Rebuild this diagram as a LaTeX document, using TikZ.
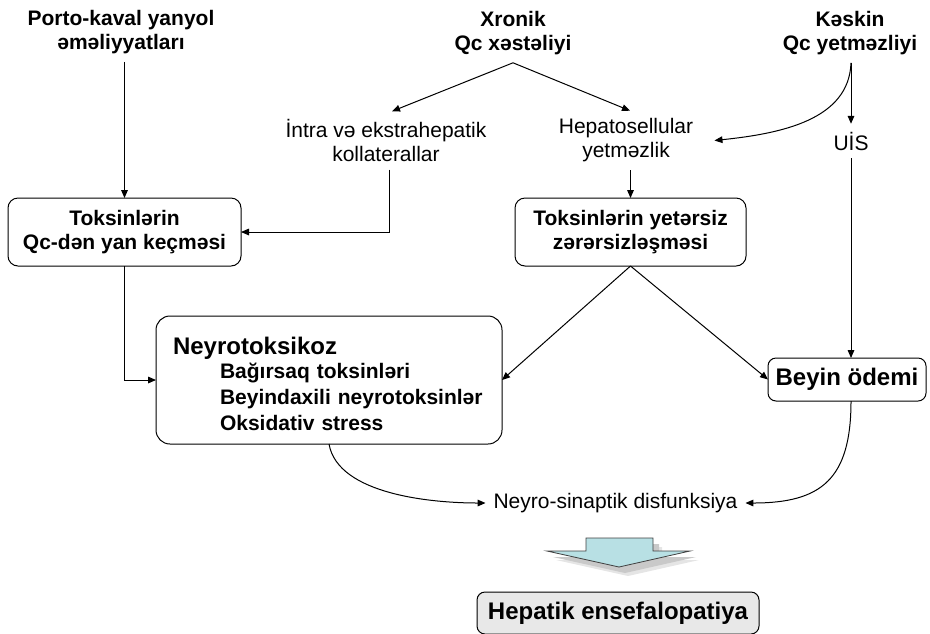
\documentclass[tikz,border=0pt]{standalone}
\usepackage{fontspec}
\setmainfont{Liberation Sans}
\usetikzlibrary{arrows.meta}
\definecolor{arrowfill}{RGB}{184,224,228}
\definecolor{boxgray}{RGB}{232,232,232}
\begin{document}
\begin{tikzpicture}[x=0.75pt,y=-0.75pt,
  every node/.style={inner sep=0pt, outer sep=0pt},
  txt/.style={align=center, font=\fontsize{15.75}{18}\selectfont, outer sep=6pt},
  btxt/.style={txt, font=\fontsize{15.75}{18}\selectfont\bfseries},
  box/.style={draw, line width=0.75pt, rounded corners=7.5pt, align=center, font=\fontsize{15.75}{18}\selectfont\bfseries},
  bigbox/.style={box, font=\fontsize{18}{21}\selectfont\bfseries},
  arr/.style={line width=0.75pt, -{Triangle[length=6pt,width=5pt]}}]
\useasboundingbox (0,0) rectangle (930,633);

% text nodes
\node[btxt] (porto) at (121,32) {Porto-kaval yanyol\\əməliyyatları};
\node[btxt] (xronik) at (513,33) {Xronik\\Qc xəstəliyi};
\node[btxt] (keskin) at (850,33) {Kəskin\\Qc yetməzliyi};
\node[txt] (intra) at (386,140.5) {İntra və ekstrahepatik\\kollaterallar};
\node[txt] (hepato) at (626,140.5) {Hepatosellular\\yetməzlik};
\node[txt] (uis) at (851,141) {UİS};

% boxes
\node[box, minimum width=233*0.75pt, minimum height=68*0.75pt] (box1) at (124.5,232) {Toksinlərin\\Qc-dən yan keçməsi};
\node[box, minimum width=231*0.75pt, minimum height=68*0.75pt] (box2) at (630.5,232) {Toksinlərin yetərsiz\\zərərsizləşməsi};
\node[box, rounded corners=10.5pt, minimum width=346*0.75pt, minimum height=128*0.75pt, align=left, text width=312*0.75pt, inner xsep=12.75pt, font=\fontsize{15.75}{19.5}\selectfont\bfseries] (neyro) at (329,380)
  {\rule{0pt}{19pt}{\fontsize{18}{19.5}\selectfont Neyrotoksikoz}\\[-2pt]\hspace*{35.25pt}Bağırsaq toksinləri\\\hspace*{35.25pt}Beyindaxili neyrotoksinlər\\\hspace*{35.25pt}Oksidativ stress};
\node[bigbox, rounded corners=6pt, minimum width=158*0.75pt, minimum height=43*0.75pt] (beyin) at (847,379.5) {Beyin ödemi};
\node[txt] (neyrosin) at (615.5,503) {Neyro-sinaptik disfunksiya};
\node[bigbox, fill=boxgray, rounded corners=6pt, minimum width=282*0.75pt, minimum height=42*0.75pt] (hepatik) at (618,613) {Hepatik ensefalopatiya};

% block arrow with shadow
\fill[gray!20, shift={(9,9)}] (586,538) -- (653,538) -- (653,551) -- (690,551) -- (619,567) -- (547,551) -- (586,551) -- cycle;
\fill[gray!42, shift={(6,6)}] (586,538) -- (653,538) -- (653,551) -- (690,551) -- (619,567) -- (547,551) -- (586,551) -- cycle;
\filldraw[fill=arrowfill, draw=black!75, line width=0.6pt] (586,538) -- (653,538) -- (653,551) -- (690,551) -- (619,567) -- (547,551) -- (586,551) -- cycle;

% connectors
\draw[arr] (porto.south -| box1.north) -- (box1.north);
\draw[arr] (xronik.south) -- ([xshift=4.5pt]intra.north);
\draw[arr] (xronik.south) -- ([xshift=3pt]hepato.north);
\draw[arr] ([xshift=2.25pt]intra.south) |- (box1.east);
\draw[arr] (hepato.south -| box2.north) -- (box2.north);
\draw[arr] (keskin.south -| uis.north) -- (uis.north);
\draw[arr] (keskin.south -| uis.north) .. controls +(-2,57) and +(67,-7) .. ([xshift=10pt]hepato.east);
\draw[arr] (uis.south) -- (uis.south |- beyin.north);
\draw[arr] (box1.south) |- (neyro.west);
\draw[arr] (box2.south) -- (neyro.east);
\draw[arr] (box2.south) -- (beyin.west);
\draw[arr] (neyro.south) .. controls +(9,51) and +(-52,0) .. (neyrosin.west);
\draw[arr] (beyin.south -| uis.south) .. controls +(0,78) and +(76,0) .. (neyrosin.east);
\end{tikzpicture}
\end{document}
